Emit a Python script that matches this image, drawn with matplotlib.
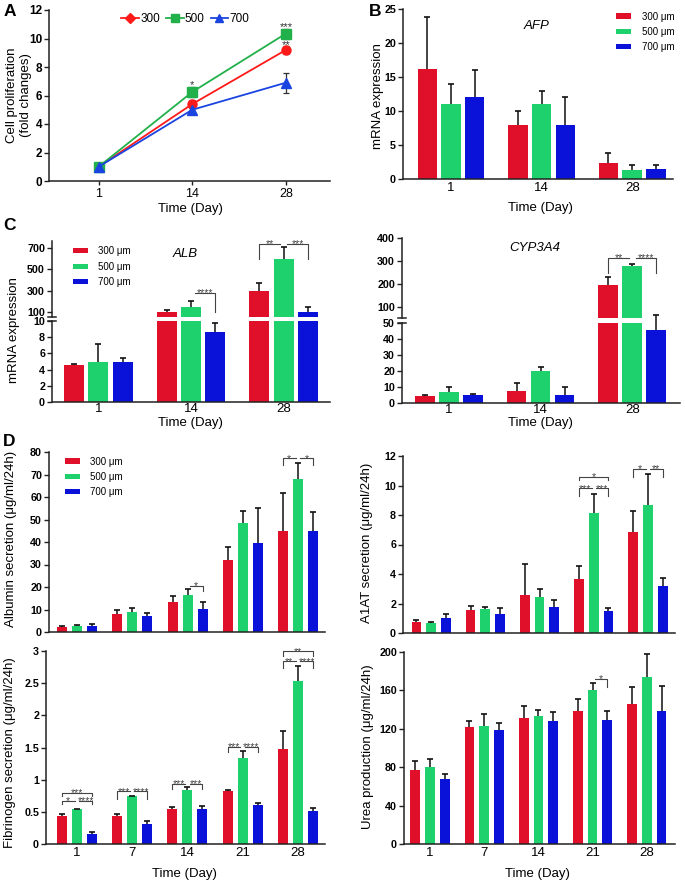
import numpy as np
import matplotlib
matplotlib.use('Agg')
import matplotlib.pyplot as plt
from matplotlib.patches import Patch
from matplotlib.lines import Line2D
from matplotlib.ticker import FuncFormatter

plt.rcParams['font.family'] = ['Liberation Sans', 'DejaVu Sans']

# ---------------- data ----------------
sizes = ['300 μm', '500 μm', '700 μm']
size_short = ['300', '500', '700']
days3 = ['1', '14', '28']
days5 = ['1', '7', '14', '21', '28']

# A: cell proliferation (fold change)
prolif_300 = [1.0, 5.4, 9.2]
prolif_300_err = [0.15, 0.3, 0.3]
prolif_500 = [1.0, 6.25, 10.35]
prolif_500_err = [0.15, 0.35, 0.35]
prolif_700 = [1.0, 5.0, 6.9]
prolif_700_err = [0.15, 0.3, 0.7]
prolif_marks = [(1, '*'), (2, '***'), (2, '**')]
prolif_mark_y = [6.5, 10.62, 9.3]

# B: AFP mRNA
afp_300 = [16.2, 8.0, 2.3]
afp_300_err = [7.6, 2.0, 1.5]
afp_500 = [11.0, 11.0, 1.3]
afp_500_err = [3.0, 2.0, 0.7]
afp_700 = [12.0, 8.0, 1.5]
afp_700_err = [4.0, 4.0, 0.5]

# C: ALB mRNA
alb_300 = [4.6, 100, 300]
alb_300_err = [0.15, 20, 72]
alb_500 = [4.9, 152, 598]
alb_500_err = [2.2, 50, 110]
alb_700 = [5.0, 8.7, 103]
alb_700_err = [0.4, 1.1, 45]

# C: CYP3A4 mRNA
cyp_300 = [4.5, 7.5, 195]
cyp_300_err = [0.7, 5.0, 35]
cyp_500 = [6.8, 20.0, 276]
cyp_500_err = [3.5, 2.5, 11]
cyp_700 = [5.0, 5.2, 45.5]
cyp_700_err = [0.6, 4.5, 9.5]

# D: secretion
alb_sec_300 = [2.4, 8.0, 13.5, 32.0, 45.0]
alb_sec_300_err = [0.4, 1.8, 2.6, 5.9, 16.9]
alb_sec_500 = [2.8, 8.9, 16.6, 48.3, 68.0]
alb_sec_500_err = [0.3, 1.9, 2.5, 5.6, 7.0]
alb_sec_700 = [2.8, 7.0, 10.1, 39.7, 45.0]
alb_sec_700_err = [0.6, 1.4, 3.4, 15.3, 8.3]

a1at_300 = [0.72, 1.54, 2.60, 3.64, 6.85]
a1at_300_err = [0.18, 0.31, 2.10, 0.92, 1.44]
a1at_500 = [0.66, 1.60, 2.46, 8.16, 8.70]
a1at_500_err = [0.06, 0.16, 0.50, 1.29, 2.10]
a1at_700 = [1.02, 1.31, 1.76, 1.51, 3.16]
a1at_700_err = [0.29, 0.39, 0.48, 0.19, 0.54]

fib_300 = [0.44, 0.44, 0.54, 0.83, 1.47]
fib_300_err = [0.02, 0.03, 0.03, 0.01, 0.29]
fib_500 = [0.54, 0.74, 0.84, 1.33, 2.54]
fib_500_err = [0.01, 0.01, 0.04, 0.12, 0.23]
fib_700 = [0.16, 0.31, 0.55, 0.61, 0.51]
fib_700_err = [0.03, 0.04, 0.04, 0.02, 0.05]

urea_300 = [77, 122, 131, 138.5, 146]
urea_300_err = [9, 6, 13, 12.5, 18]
urea_500 = [80, 123, 133, 160, 174]
urea_500_err = [9, 12, 7, 8, 24]
urea_700 = [68, 119, 128, 129, 139]
urea_700_err = [5, 7, 9.5, 9.5, 26]

# significance: (group, i, j, bracket y, leg end y, label)
sig_alb = [(1, 1, 2, 280, 100, '****'), (2, 0, 1, 740, 595, '**'), (2, 1, 2, 740, 595, '***')]
sig_cyp = [(2, 0, 1, 314, 245, '**'), (2, 1, 2, 314, 245, '****')]
sig_albsec = [(2, 1, 2, 20.6, 18.3, '*'), (4, 0, 1, 77.3, 74.4, '*'), (4, 1, 2, 77.3, 74.4, '*')]
sig_a1at = [(3, 0, 2, 10.6, 10.35, '*'), (3, 0, 1, 9.83, 9.3, '***'), (3, 1, 2, 9.83, 9.3, '***'),
            (4, 0, 1, 11.14, 10.58, '*'), (4, 1, 2, 11.14, 10.58, '**')]
sig_fib = [(0, 0, 2, 0.80, 0.74, '***'), (0, 0, 1, 0.67, 0.62, '*'), (0, 1, 2, 0.67, 0.62, '****'),
           (1, 0, 1, 0.82, 0.70, '***'), (1, 1, 2, 0.82, 0.70, '****'),
           (2, 0, 1, 0.94, 0.86, '***'), (2, 1, 2, 0.94, 0.86, '***'),
           (3, 0, 1, 1.51, 1.43, '***'), (3, 1, 2, 1.51, 1.43, '****'),
           (4, 0, 2, 3.0, 2.92, '**'), (4, 0, 1, 2.84, 2.74, '**'), (4, 1, 2, 2.84, 2.74, '****')]
sig_urea = [(3, 1, 2, 172, 164, '*')]

# ---------------- style ----------------
COLORS = ['#E0102A', '#1FD16C', '#0A12DA']
LINE_COLORS = ['#FF1A1A', '#22B04A', '#1A44E0']
ECOL = '#111111'
SIGC = '#444444'
SPC = '#222222'
W, H = 685, 883

fig = plt.figure(figsize=(6.85, 8.83), dpi=100)


def px_axes(x0, x1, y0, y1):
    return fig.add_axes([x0 / W, 1 - y1 / H, (x1 - x0) / W, (y1 - y0) / H])


def style(ax, xticks=False, ysize=7.7):
    for s in ['top', 'right']:
        ax.spines[s].set_visible(False)
    for s in ['left', 'bottom']:
        ax.spines[s].set_linewidth(1.1)
        ax.spines[s].set_color(SPC)
    ax.tick_params(axis='y', direction='out', length=3.5, width=1.0, colors=SPC,
                   labelsize=ysize, labelcolor='black', pad=1.5)
    ax.tick_params(axis='x', length=(3 if xticks else 0), width=1.0, colors=SPC,
                   labelsize=9.5, labelcolor='black', pad=2)
    ax.set_facecolor('none')


def boldy(ax):
    for lab in ax.get_yticklabels():
        lab.set_fontweight('bold')


def errbars(ax, x, vals, errs, clip=True):
    top = vals + errs
    ax.vlines(x, vals, top, colors=ECOL, lw=1.1, zorder=3, clip_on=clip)
    ax.plot(x, top, ls='none', marker='_', ms=4.5, mew=1.2, color=ECOL, zorder=3, clip_on=clip)


def draw_bars(ax, series, errors, n, width, off, err_mask=None, clip=True):
    for k, (vals, errs) in enumerate(zip(series, errors)):
        x = np.arange(n) + (k - 1) * off
        vals = np.asarray(vals, float)
        errs = np.asarray(errs, float)
        ax.bar(x, vals, width, color=COLORS[k], edgecolor='none', zorder=2)
        m = np.ones(n, bool) if err_mask is None else err_mask(vals)
        if m.any():
            errbars(ax, x[m], vals[m], errs[m], clip=clip)


def sig(ax, entries, off, gap):
    for (g, i, j, y, leg, label) in entries:
        xi = g + (i - 1) * off
        xj = g + (j - 1) * off
        if (i, j) == (0, 1):
            xs, ys = [xi, xi, xj - gap], [leg, y, y]
            xm = (xi + xj - gap) / 2
        elif (i, j) == (1, 2):
            xs, ys = [xi + gap, xj, xj], [y, y, leg]
            xm = (xi + gap + xj) / 2
        else:
            xs, ys = [xi, xi, xj, xj], [leg, y, y, leg]
            xm = (xi + xj) / 2
        ax.plot(xs, ys, color=SIGC, lw=0.8, clip_on=False, zorder=4)
        ax.annotate(label, (xm, y), xytext=(0, -2.6), textcoords='offset points',
                    ha='center', va='baseline', fontsize=7.5, color=SIGC,
                    annotation_clip=False)


def size_legend(ax, anchor):
    handles = [Patch(facecolor=c, edgecolor='none') for c in COLORS]
    ax.legend(handles, sizes, loc='upper left', bbox_to_anchor=anchor, frameon=False,
              fontsize=7, handlelength=1.5, handleheight=0.45, handletextpad=1.1,
              labelspacing=0.55, borderaxespad=0, borderpad=0)


def ftext(x, y, s, **kw):
    fig.text(x / W, 1 - y / H, s, **kw)


# ---------------- A ----------------
axA = px_axes(49, 330, 10, 181)
xA = np.arange(3)
for vals, errs, col, mk in [(prolif_300, prolif_300_err, LINE_COLORS[0], 'o'),
                            (prolif_500, prolif_500_err, LINE_COLORS[1], 's'),
                            (prolif_700, prolif_700_err, LINE_COLORS[2], '^')]:
    axA.errorbar(xA, vals, yerr=errs, fmt='none', ecolor='#333333', elinewidth=0.9,
                 capsize=2.2, capthick=0.9, zorder=2)
    axA.plot(xA, vals, color=col, lw=1.3, marker=mk, ms=6.5, zorder=3)
axA.set_xlim(-0.53, 2.47)
axA.set_ylim(0, 12)
axA.set_yticks(range(0, 13, 2))
axA.set_xticks(xA)
axA.set_xticklabels(days3)
style(axA, xticks=True, ysize=8.5)
axA.tick_params(axis='x', labelsize=9)
for (x, t), y in zip(prolif_marks, prolif_mark_y):
    axA.text(x, y, t, ha='center', va='baseline', fontsize=8, color='#333333', zorder=5)
lh = [Line2D([0], [0], color=c, marker=m, ms=5.5, lw=1.3) for c, m in zip(LINE_COLORS, ['D', 's', '^'])]
axA.legend(lh, size_short, loc='upper center', bbox_to_anchor=(0.485, 1.01), ncol=3, frameon=False,
           fontsize=8.5, handlelength=1.5, handletextpad=0.1, columnspacing=0.5, borderaxespad=0)
ftext(19, 95, 'Cell proliferation\n(fold changes)', rotation=90, ha='center', va='center',
      fontsize=9.5, multialignment='center')
ftext(190, 209, 'Time (Day)', ha='center', va='center', fontsize=9.5)

# ---------------- B ----------------
BW3, OFF3 = 0.215, 0.262
axB = px_axes(403, 673, 9, 179)
draw_bars(axB, [afp_300, afp_500, afp_700], [afp_300_err, afp_500_err, afp_700_err], 3, BW3, OFF3)
axB.set_xlim(-0.53, 2.45)
axB.set_ylim(0, 25)
axB.set_yticks(range(0, 26, 5))
axB.set_xticks(range(3))
axB.set_xticklabels(days3)
style(axB)
axB.text(0.496, 0.9, 'AFP', transform=axB.transAxes, ha='center', va='center',
         fontsize=9.5, style='italic')
size_legend(axB, (0.79, 0.985))
ftext(378, 96, 'mRNA expression', rotation=90, ha='center', va='center', fontsize=9.5)
ftext(540, 208, 'Time (Day)', ha='center', va='center', fontsize=9.5)


# ---------------- C (broken axes) ----------------
def broken(x0, x1, lo_y, hi_y, lo_lim, hi_lim, lo_ticks, hi_ticks, series, errors, xlim):
    axl = px_axes(x0, x1, lo_y[0], lo_y[1])
    axu = px_axes(x0, x1, hi_y[0], hi_y[1])
    lo_top = lo_lim[1]
    draw_bars(axl, series, errors, 3, BW3, OFF3, err_mask=lambda v: v <= lo_top, clip=False)
    draw_bars(axu, series, errors, 3, BW3, OFF3, err_mask=lambda v: v > lo_top)
    for ax, lim, tk in [(axl, lo_lim, lo_ticks), (axu, hi_lim, hi_ticks)]:
        ax.set_xlim(*xlim)
        ax.set_ylim(*lim)
        ax.set_yticks(tk)
        style(ax)
    axl.set_xticks(range(3))
    axl.set_xticklabels(days3)
    axl.tick_params(axis='x', pad=1)
    axu.set_xticks([])
    axu.spines['bottom'].set_visible(False)
    axl.plot([-0.013, 0.013], [1, 1], transform=axl.transAxes, color=SPC, lw=1.1, clip_on=False)
    axu.plot([-0.013, 0.013], [0, 0], transform=axu.transAxes, color=SPC, lw=1.1, clip_on=False)
    return axl, axu


axCl, axCu = broken(52, 330, (321, 402), (241, 316.5), (0, 10), (60, 765), range(0, 11, 2),
                    [100, 300, 500, 700], [alb_300, alb_500, alb_700],
                    [alb_300_err, alb_500_err, alb_700_err], (-0.5, 2.5))
sig(axCu, sig_alb, OFF3, 0.04)
axCu.text(0.48, 0.83, 'ALB', transform=axCu.transAxes, ha='center', va='center',
          fontsize=9.5, style='italic')
size_legend(axCu, (0.076, 0.93))
ftext(14, 330, 'mRNA expression', rotation=90, ha='center', va='center', fontsize=9.5)
ftext(190, 423, 'Time (Day)', ha='center', va='center', fontsize=9.5)

axRl, axRu = broken(402, 680, (323, 403), (238, 318), (0, 50), (50, 400), range(0, 51, 10),
                    [100, 200, 300, 400], [cyp_300, cyp_500, cyp_700],
                    [cyp_300_err, cyp_500_err, cyp_700_err], (-0.51, 2.52))
sig(axRu, sig_cyp, OFF3, 0.04)
axRu.text(0.478, 0.875, 'CYP3A4', transform=axRu.transAxes, ha='center', va='center',
          fontsize=9.5, style='italic')
ftext(540, 423, 'Time (Day)', ha='center', va='center', fontsize=9.5)

# ---------------- D ----------------
BW5, OFF5 = 0.18, 0.272
pct = FuncFormatter(lambda v, p: '%g' % v)

axD1 = px_axes(49, 325, 452, 632)
draw_bars(axD1, [alb_sec_300, alb_sec_500, alb_sec_700],
          [alb_sec_300_err, alb_sec_500_err, alb_sec_700_err], 5, BW5, OFF5)
axD1.set_xlim(-0.51, 4.49)
axD1.set_ylim(0, 80)
axD1.set_yticks(range(0, 81, 10))
axD1.set_xticks([])
style(axD1)
sig(axD1, sig_albsec, OFF5, 0.04)
size_legend(axD1, (0.058, 0.975))
ftext(11, 539, 'Albumin secretion (μg/ml/24h)', rotation=90, ha='center', va='center', fontsize=9.5)

axD2 = px_axes(403, 675, 456, 633)
draw_bars(axD2, [a1at_300, a1at_500, a1at_700], [a1at_300_err, a1at_500_err, a1at_700_err],
          5, BW5, OFF5)
axD2.set_xlim(-0.52, 4.5)
axD2.set_ylim(0, 12)
axD2.set_yticks(range(0, 13, 2))
axD2.set_xticks([])
style(axD2)
sig(axD2, sig_a1at, OFF5, 0.04)
ftext(367, 543, 'A1AT secretion (μg/ml/24h)', rotation=90, ha='center', va='center', fontsize=9.5)

axD3 = px_axes(46, 325, 651, 844)
draw_bars(axD3, [fib_300, fib_500, fib_700], [fib_300_err, fib_500_err, fib_700_err], 5, BW5, OFF5)
axD3.set_xlim(-0.56, 4.49)
axD3.set_ylim(0, 3)
axD3.set_yticks(np.arange(0, 3.01, 0.5))
axD3.yaxis.set_major_formatter(pct)
axD3.set_xticks(range(5))
axD3.set_xticklabels(days5)
style(axD3)
sig(axD3, sig_fib, OFF5, 0.04)
ftext(10, 753, 'Fibrinogen secretion (μg/ml/24h)', rotation=90, ha='center', va='center', fontsize=9.5)
ftext(184, 874, 'Time (Day)', ha='center', va='center', fontsize=9.5)

axD4 = px_axes(404, 675, 652, 844)
draw_bars(axD4, [urea_300, urea_500, urea_700], [urea_300_err, urea_500_err, urea_700_err],
          5, BW5, OFF5)
axD4.set_xlim(-0.48, 4.52)
axD4.set_ylim(0, 200)
axD4.set_yticks(range(0, 201, 40))
axD4.set_xticks(range(5))
axD4.set_xticklabels(days5)
style(axD4)
sig(axD4, sig_urea, OFF5, 0.04)
ftext(368, 747, 'Urea production (μg/ml/24h)', rotation=90, ha='center', va='center', fontsize=9.5)
ftext(537, 874, 'Time (Day)', ha='center', va='center', fontsize=9.5)

for ax in fig.axes:
    boldy(ax)

# panel letters
for (x, y, t) in [(10, 12, 'A'), (375, 12, 'B'), (9, 226, 'C'), (9, 442, 'D')]:
    ftext(x, y, t, ha='center', va='center', fontsize=12.5, fontweight='bold')

fig.savefig('out.png', dpi=100)
